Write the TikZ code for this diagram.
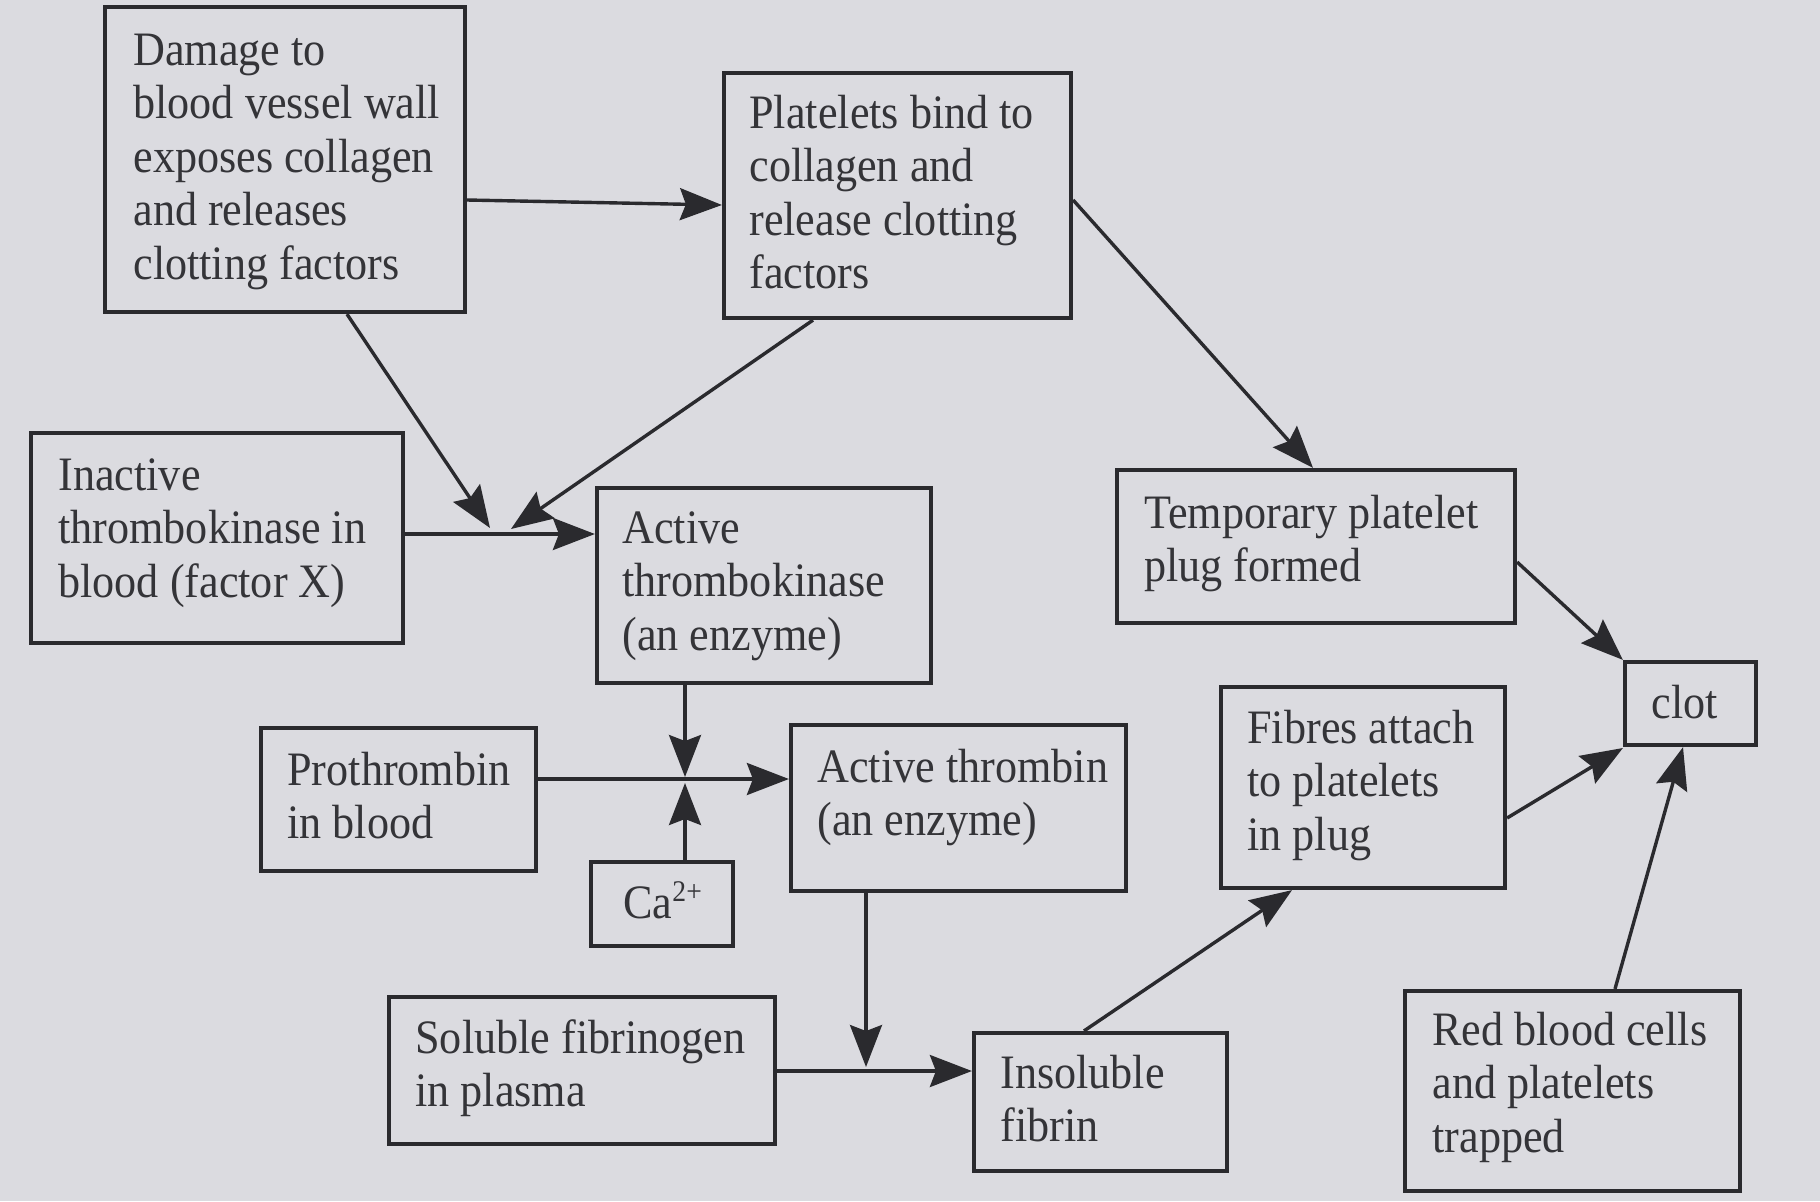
\documentclass[tikz,border=0pt]{standalone}
\usepackage{fontspec}
\setmainfont{Liberation Serif}[FakeStretch=0.92]
\usetikzlibrary{arrows.meta,fit}
\definecolor{paper}{RGB}{219,219,224}
\definecolor{ink}{RGB}{42,42,46}
\definecolor{txtc}{RGB}{52,52,56}
\newcommand{\ionsup}[1]{\raisebox{8.5pt}{\fontsize{15}{15}\selectfont #1}}
\tikzset{
  box/.style={draw=ink, line width=2.1pt, inner sep=0pt},
  lbl/.style={inner sep=0pt, anchor=base west, text width=230pt, align=flush left,
    text=txtc, font=\fontsize{24}{26.8}\selectfont},
  arr/.style={draw=ink, line width=1.7pt,
    -{Stealth[length=21pt, width=16pt, inset=3pt]}}
}
\begin{document}
\begin{tikzpicture}[x=0.5pt, y=-0.5pt]
  \useasboundingbox[fill=paper] (0,0) rectangle (1820,1201);

  % boxes
  \node[box, fit={(105,7) (465,312)}] (dmg) {};
  \node[box, fit={(724,73) (1071,318)}] (plt) {};
  \node[box, fit={(31,433) (403,643)}] (inact) {};
  \node[box, fit={(597,488) (931,683)}] (actk) {};
  \node[box, fit={(1117,470) (1515,623)}] (tmp) {};
  \node[box, fit={(1625,662) (1756,745)}] (clot) {};
  \node[box, fit={(261,728) (536,871)}] (pro) {};
  \node[box, fit={(591,862) (733,946)}] (ca) {};
  \node[box, fit={(791,725) (1126,891)}] (thr) {};
  \node[box, fit={(1221,687) (1505,888)}] (fib) {};
  \node[box, fit={(389,997) (775,1144)}] (sol) {};
  \node[box, fit={(974,1033) (1227,1171)}] (ins) {};
  \node[box, fit={(1405,991) (1740,1191)}] (red) {};

  % texts
  \node[lbl] (dmgT) at (133,65) {Damage to\\blood vessel wall\\exposes collagen\\and releases\\clotting factors};
  \node[lbl] (pltT) at (749,128) {Platelets bind to\\collagen and\\release clotting\\factors};
  \node[lbl] (inactT) at (58,490) {Inactive\\thrombokinase in\\blood (factor X)};
  \node[lbl] (actkT) at (622,543) {Active\\thrombokinase\\(an enzyme)};
  \node[lbl] (tmpT) at (1144,528) {Temporary platelet\\plug formed};
  \node[lbl] (clotT) at (1651,718) {clot};
  \node[lbl] (proT) at (287,785) {Prothrombin\\in blood};
  \node[lbl] (caT) at (623,918) {Ca\ionsup{2+}};
  \node[lbl] (thrT) at (817,782) {Active thrombin\\(an enzyme)};
  \node[lbl] (fibT) at (1247,743) {Fibres attach\\to platelets\\in plug};
  \node[lbl] (solT) at (415,1053) {Soluble fibrinogen\\in plasma};
  \node[lbl] (insT) at (1000,1088) {Insoluble\\fibrin};
  \node[lbl] (redT) at (1432,1045) {Red blood cells\\and platelets\\trapped};

  % junction points where arrows meet a reaction line
  \coordinate (j1) at (490,528);
  \coordinate (j2) at (511,529);
  \coordinate (jt) at (685,777);
  \coordinate (jb) at (685,783);
  \coordinate (jf) at (866,1067);

  % connectors
  \draw[arr] (dmg.east |- 0,200) -- (plt.west |- 0,205);
  \draw[arr] (dmg.south -| 347,0) -- (j1);
  \draw[arr] (plt.south -| 813,0) -- (j2);
  \draw[arr] (inact.east |- 0,534) -- (actk.west |- 0,534);
  \draw[arr] (actk.south -| 685,0) -- (jt);
  \draw[arr] (ca.north -| 685,0) -- (jb);
  \draw[arr] (pro.east |- 0,779) -- (thr.west |- 0,779);
  \draw[arr] (plt.east |- 0,200) -- (tmp.north -| 1313,0);
  \draw[arr] (tmp.east |- 0,562) -- (clot.north west);
  \draw[arr] (thr.south -| 866,0) -- (jf);
  \draw[arr] (sol.east |- 0,1071) -- (ins.west |- 0,1071);
  \draw[arr] (ins.north -| 1084,0) -- (fib.south -| 1292,0);
  \draw[arr] (fib.east |- 0,818) -- (clot.west |- 0,748);
  \draw[arr] (red.north -| 1615,0) -- (clot.south -| 1683,0);
\end{tikzpicture}
\end{document}
